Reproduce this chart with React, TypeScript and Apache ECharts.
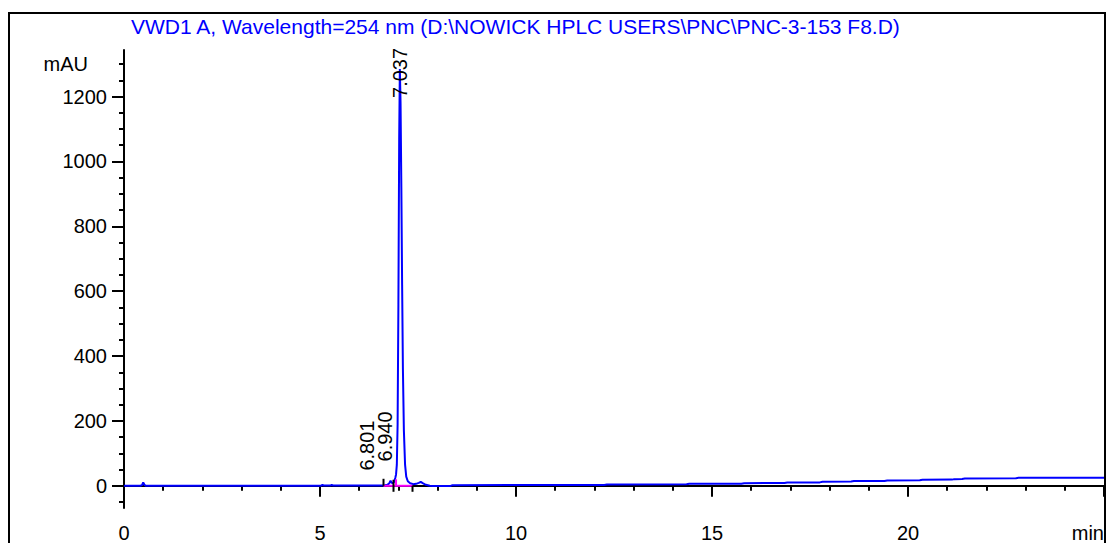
import React, { useEffect, useRef } from "react";
import * as echarts from "echarts";

// Signal trace: retention time (min) and detector response (mAU)
const traceTime = [
  0.0, 0.42, 0.46, 0.49, 0.52, 0.56, 5.02, 5.06, 5.1, 5.14, 5.26, 5.3, 5.34,
  6.58, 6.66, 6.72, 6.77, 6.8, 6.83, 6.86, 6.89, 6.92, 6.94, 6.96, 6.98, 7.0,
  7.02, 7.037, 7.055, 7.075, 7.095, 7.115, 7.14, 7.17, 7.2, 7.24, 7.3, 7.38,
  7.45, 7.52, 7.57, 7.62, 7.7, 7.8, 7.88, 8.32, 8.38, 12.25, 12.32, 14.35,
  14.42, 15.75, 15.82, 16.85, 16.92, 17.75, 17.82, 18.55, 18.62, 19.4, 19.47,
  20.3, 20.37, 21.12, 21.18, 21.38, 21.45, 22.75, 22.82, 25.0,
];
const traceMAU = [
  0, 0, 2, 10.5, 3, 0, 0, 2.5, 1, 0.5, 0.5, 2.5, 0.5,
  0.5, 1.5, 3, 8, 16, 9, 8, 12, 24, 35, 65, 190, 560,
  1070, 1285, 1180, 920, 620, 360, 170, 65, 28, 14, 8, 5,
  6, 9, 12, 8, 3, 0, -1, -1, 2, 2.5, 4, 4.5,
  6, 6.5, 8, 8.5, 10, 10.5, 12.5, 13, 14.5, 15, 16.5,
  17, 18.5, 19, 20.5, 21, 22.5, 23, 24.5, 24.5,
];

// Integrated peaks
const peakTimes = [6.801, 6.94, 7.037];
const peakHeights = [16, 35, 1285];

// Integration events (min): baseline start, valley, baseline end
const integrationEvents = [6.62, 6.875, 7.36];
const dropLineTime = 6.94;
const dropLineTop = 20;

// Axis tick values
const xTicks = [0, 5, 10, 15, 20, 25];
const yMajorTicks = [0, 200, 400, 600, 800, 1000, 1200];
const yMinorTicks = [-50, 50, 100, 150, 250, 300, 350, 450, 500, 550, 650, 700, 750, 850, 900, 950, 1050, 1100, 1150, 1250, 1300];
const yUnitAt = 1300;

const TITLE = "VWD1 A, Wavelength=254 nm (D:\\NOWICK HPLC USERS\\PNC\\PNC-3-153 F8.D)";

const FONT = "'Liberation Sans', Arial, sans-serif";
const BLUE = "#0000ff";
const PINK = "#ff00ff";

// pixel placement of the rotated retention-time labels relative to each apex
const labelOffsets = [
  [-24, -10],
  [-11, -13],
  [0, 29],
];
// vertical extent (px) of each integration event tick around the baseline
const eventTickSpan = [
  [-7, 0],
  [-6, 6],
  [0, 6],
];

export default function App() {
  const ref = useRef<HTMLDivElement>(null);

  useEffect(() => {
    if (!ref.current) return;
    const chart = echarts.init(ref.current, undefined, { renderer: "svg" });

    const trace = traceTime.map((t, i) => [t, traceMAU[i]]);
    const peaks = peakTimes.map((t, i) => [t, peakHeights[i]]);

    chart.setOption({
      animation: false,
      backgroundColor: "#ffffff",
      grid: { left: 124, right: 2, top: 50, bottom: 34, containLabel: false },
      xAxis: {
        type: "value",
        min: 0,
        max: 25,
        interval: 5,
        axisLine: { show: true, lineStyle: { color: "#000", width: 2 } },
        axisTick: { show: true, length: 11, lineStyle: { color: "#000", width: 2 } },
        minorTick: { show: true, splitNumber: 5, length: 5, lineStyle: { color: "#000", width: 2 } },
        splitLine: { show: false },
        axisLabel: {
          margin: 15,
          fontSize: 20,
          fontFamily: FONT,
          color: "#000",
          alignMaxLabel: "right",
          formatter: (v: number) => (v === xTicks[xTicks.length - 1] ? "min" : String(v)),
        },
      },
      yAxis: [
        {
          type: "value",
          min: -68.5,
          max: 1343.5,
          axisLine: { show: true, lineStyle: { color: "#000", width: 2 } },
          axisTick: {
            show: true,
            length: 12,
            customValues: yMajorTicks,
            lineStyle: { color: "#000", width: 2 },
          },
          splitLine: { show: false },
          axisLabel: {
            margin: 17,
            fontSize: 20,
            fontFamily: FONT,
            color: "#000",
            customValues: [...yMajorTicks, yUnitAt],
            formatter: (v: number) => (v === yUnitAt ? "{u|mAU}" : String(v)),
            rich: {
              u: { fontSize: 20, fontFamily: FONT, color: "#000", padding: [0, 19, 0, 0] },
            },
          },
        },
        {
          type: "value",
          min: -68.5,
          max: 1343.5,
          position: "left",
          axisLine: { show: false },
          axisTick: {
            show: true,
            length: 5,
            customValues: yMinorTicks,
            lineStyle: { color: "#000", width: 2 },
          },
          axisLabel: { show: false },
          splitLine: { show: false },
        },
      ],
      series: [
        {
          name: "signal",
          type: "line",
          data: trace,
          showSymbol: false,
          symbol: "none",
          lineStyle: { color: BLUE, width: 2 },
          z: 3,
        },
        {
          name: "integration",
          type: "custom",
          data: [[integrationEvents[0], 0]],
          z: 4,
          renderItem: (_params: any, api: any) => {
            const a = api.coord([integrationEvents[0], 0]);
            const b = api.coord([integrationEvents[integrationEvents.length - 1], 0]);
            const d0 = api.coord([dropLineTime, 0]);
            const d1 = api.coord([dropLineTime, dropLineTop]);
            const children: any[] = [
              {
                type: "line",
                shape: { x1: a[0], y1: a[1], x2: b[0], y2: b[1] },
                style: { stroke: PINK, lineWidth: 2 },
              },
              {
                type: "line",
                shape: { x1: d0[0], y1: d0[1], x2: d1[0], y2: d1[1] },
                style: { stroke: PINK, lineWidth: 2 },
              },
            ];
            integrationEvents.forEach((t, i) => {
              const p = api.coord([t, 0]);
              children.push({
                type: "line",
                shape: { x1: p[0], y1: p[1] + eventTickSpan[i][0], x2: p[0], y2: p[1] + eventTickSpan[i][1] },
                style: { stroke: "#000", lineWidth: 2 },
              });
            });
            return { type: "group", children };
          },
        },
        {
          name: "retention times",
          type: "custom",
          data: peaks,
          z: 5,
          renderItem: (params: any, api: any) => {
            const i = params.dataIndex;
            const p = api.coord([api.value(0), api.value(1)]);
            return {
              type: "text",
              x: p[0] + labelOffsets[i][0],
              y: p[1] + labelOffsets[i][1],
              rotation: Math.PI / 2,
              style: {
                text: peakTimes[i].toFixed(3),
                fontSize: 20,
                fontFamily: FONT,
                fill: "#000",
                align: "left",
                verticalAlign: "middle",
                textAlign: "left",
                textVerticalAlign: "middle",
              },
            };
          },
        },
      ],
      graphic: [
        {
          type: "rect",
          shape: { x: 9, y: 13, width: 1096, height: 600 },
          style: { fill: "none", stroke: "#000", lineWidth: 2 },
          silent: true,
          z: 10,
        },
        {
          type: "text",
          x: 131,
          y: 26,
          style: {
            text: TITLE,
            fontSize: 21,
            fontFamily: FONT,
            fill: BLUE,
            textAlign: "left",
            textVerticalAlign: "middle",
            align: "left",
            verticalAlign: "middle",
          },
          z: 10,
        },
      ],
    });

    return () => chart.dispose();
  }, []);

  return (
    <div
      ref={ref}
      style={{ position: "absolute", left: 0, top: 0, width: 1107, height: 543, background: "#fff" }}
    />
  );
}
